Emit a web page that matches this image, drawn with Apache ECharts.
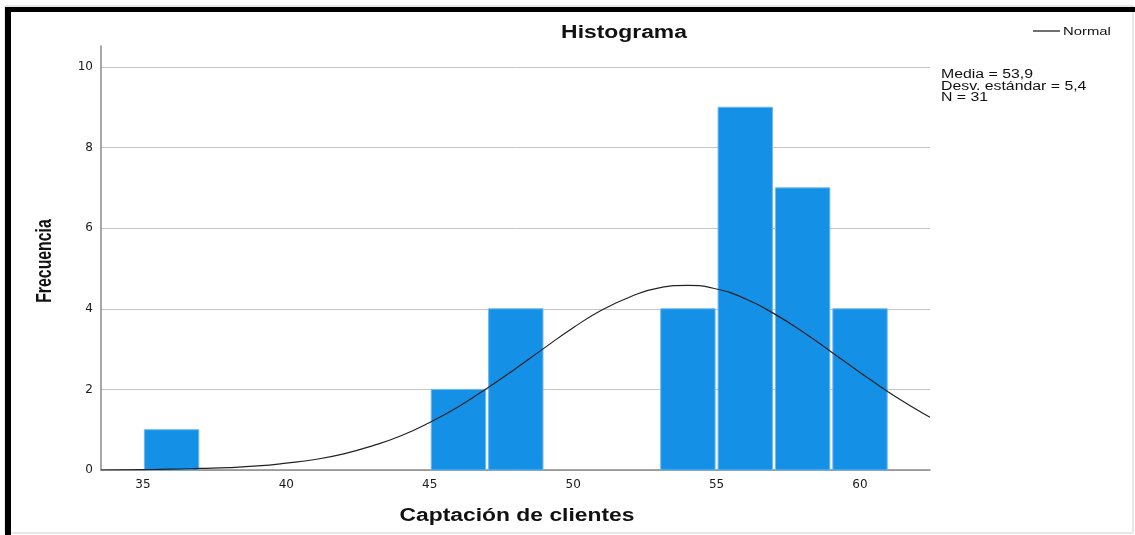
<!DOCTYPE html>
<html><head><meta charset="utf-8">
<script src="https://cdn.jsdelivr.net/npm/echarts@6/dist/echarts.min.js"></script>
<style>html,body{margin:0;padding:0;background:#fff}#c{width:1135px;height:535px}</style>
</head><body><div id="c"></div>
<script>
// Histogram bins (lower edge, upper edge) and frequencies
var binStart = [35, 45, 47, 53, 55, 57, 59];
var binEnd   = [37, 47, 49, 55, 57, 59, 61];
var freq     = [1, 2, 4, 4, 9, 7, 4];
// Normal curve
var curveX = [33.54, 35, 36, 37, 38, 39, 40, 41, 42, 43, 44, 45, 46, 47, 48, 49, 50, 51, 52, 53, 54, 55, 56, 57, 58, 59, 60, 61, 62, 62.44];
var curveY = [0.0, 0.01, 0.02, 0.04, 0.06, 0.10, 0.17, 0.26, 0.40, 0.60, 0.85, 1.18, 1.57, 2.03, 2.52, 3.03, 3.53, 3.97, 4.30, 4.52, 4.58, 4.49, 4.25, 3.88, 3.43, 2.93, 2.42, 1.93, 1.49, 1.31];
var xMin = 33.54, xMax = 62.44, yMin = 0, yMax = 10.52;
var statLines = ['Media = 53,9', 'Desv. estándar = 5,4', 'N = 31'];
var titleText = 'Histograma';
var xTitle = 'Captación de clientes';
var yTitle = 'Frecuencia';
var legendText = 'Normal';

var barData = binStart.map(function (s, i) { return [s, binEnd[i], freq[i]]; });
var curveData = curveX.map(function (x, i) { return [x, curveY[i]]; });
var LS = '"Liberation Sans", Arial, sans-serif';

var chart = echarts.init(document.getElementById('c'));
chart.setOption({
  animation: false,
  backgroundColor: '#fff',
  textStyle: { fontFamily: 'DejaVu Sans, sans-serif' },
  grid: { left: 101, right: 205, top: 46, bottom: 65, containLabel: false },
  xAxis: {
    type: 'value', min: xMin, max: xMax, splitNumber: 5,
    axisLine: { show: true, onZero: false, lineStyle: { color: '#8a8a8a', width: 1.5 } },
    axisTick: { show: false },
    splitLine: { show: false },
    axisLabel: { color: '#1a1a1a', fontSize: 12, margin: 9, fontFamily: 'DejaVu Sans, sans-serif',
      formatter: function (v) { return (Math.abs(v % 5) < 1e-9) ? String(v) : ''; } }
  },
  yAxis: {
    type: 'value', min: yMin, max: yMax, splitNumber: 5,
    axisLine: { show: true, lineStyle: { color: '#8a8a8a', width: 1.5 } },
    axisTick: { show: false },
    axisLabel: { color: '#1a1a1a', fontSize: 12, margin: 8, fontFamily: 'DejaVu Sans, sans-serif',
      formatter: function (v) { return (Math.abs(v % 2) < 1e-9) ? String(v) : ''; } },
    splitLine: { show: true, lineStyle: { color: ['#c6c6c6', '#c6c6c6', '#c6c6c6', '#c6c6c6', '#c6c6c6', '#c6c6c6', 'rgba(0,0,0,0)'], width: 1 } }
  },
  series: [
    {
      type: 'custom',
      data: barData,
      encode: { x: [0, 1], y: 2 },
      renderItem: function (params, api) {
        var p0 = api.coord([api.value(0), api.value(2)]);
        var p1 = api.coord([api.value(1), 0]);
        return {
          type: 'rect',
          shape: { x: p0[0] + 1.5, y: p0[1], width: p1[0] - p0[0] - 3, height: p1[1] - p0[1] },
          style: { fill: '#1491e7', stroke: '#6fb8ee', lineWidth: 1 }
        };
      },
      z: 2
    },
    {
      type: 'line', data: curveData, smooth: true, showSymbol: false, symbol: 'none',
      lineStyle: { color: '#222', width: 1.2 }, z: 3
    }
  ],
  graphic: [
    { type: 'rect', shape: { x: 5, y: 6, width: 1128, height: 527 }, style: { fill: 'none', stroke: '#d0d0d0', lineWidth: 1 }, silent: true },
    { type: 'rect', shape: { x: 5, y: 7, width: 1130, height: 5 }, style: { fill: '#000' }, silent: true },
    { type: 'rect', shape: { x: 5, y: 7, width: 6, height: 528 }, style: { fill: '#000' }, silent: true },
    { type: 'text', x: 624, y: 33, scaleX: 1.27,
      style: { text: titleText, font: 'bold 18px ' + LS, fill: '#111', align: 'center', verticalAlign: 'middle' } },
    { type: 'text', x: 517, y: 516, scaleX: 1.27,
      style: { text: xTitle, font: 'bold 18px ' + LS, fill: '#111', align: 'center', verticalAlign: 'middle' } },
    { type: 'text', x: 45, y: 261, rotation: Math.PI / 2, scaleX: 0.72,
      style: { text: yTitle, font: 'bold 22px ' + LS, fill: '#111', align: 'center', verticalAlign: 'middle' } },
    { type: 'line', shape: { x1: 1033, y1: 31, x2: 1060, y2: 31 }, style: { stroke: '#111', lineWidth: 1.2 } },
    { type: 'text', x: 1063, y: 32, scaleX: 1.35,
      style: { text: legendText, font: '11px ' + LS, fill: '#111', align: 'left', verticalAlign: 'middle' } },
    { type: 'text', x: 941, y: 69, scaleX: 1.32,
      style: { text: statLines.join('\n'), font: '12px ' + LS, lineHeight: 11.5, fill: '#111', align: 'left', verticalAlign: 'top' } }
  ]
});
</script></body></html>
